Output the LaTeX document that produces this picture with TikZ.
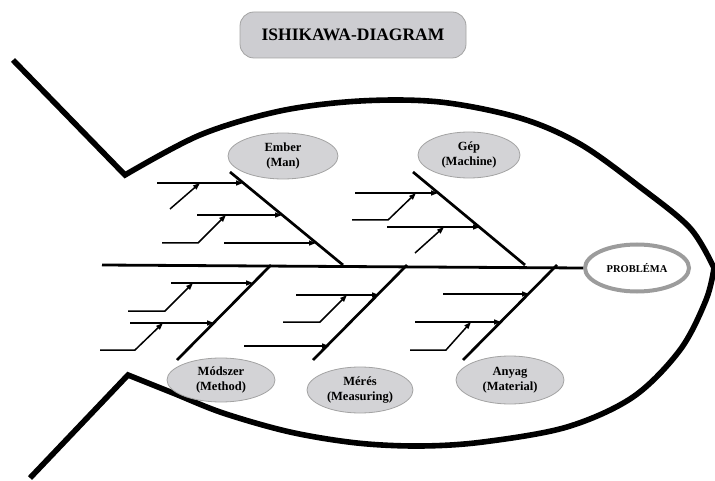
\documentclass[tikz,border=0pt]{standalone}
\usepackage{fontspec}
\setmainfont{Liberation Serif}
\usetikzlibrary{arrows.meta,shapes.geometric}
\definecolor{capfill}{HTML}{D3D3D6}
\definecolor{capdraw}{HTML}{A3A3A3}
\definecolor{titlefill}{HTML}{CDCDD1}
\definecolor{probdraw}{HTML}{9C9C9C}
\tikzset{
  body/.style={line width=5.6pt, line join=miter},
  spine/.style={line width=2.8pt},
  bone/.style={line width=2.7pt},
  twig/.style={line width=1.5pt, -{Triangle[length=7pt,width=5pt]}},
  cause/.style={ellipse, fill=capfill, draw=capdraw, line width=0.8pt, inner sep=0pt, align=center,
     font=\bfseries\fontsize{12.5}{15}\selectfont},
}
\begin{document}
\begin{tikzpicture}[x=1pt,y=-1pt]
\useasboundingbox (0,0) rectangle (715,481);
% title
\node[draw=capdraw, fill=titlefill, rounded corners=14pt, line width=0.8pt,
      minimum width=226pt, minimum height=46pt, font=\bfseries\fontsize{17.5}{20}\selectfont]
      (title) at (353,35) {ISHIKAWA-DIAGRAM};
% fish body
\draw[body] (13,60) -- plot[smooth, tension=0.55] coordinates {(125,175) (200,135) (280,111) (360,101) (440,102) (520,118) (580,144) (640,187) (690,228) (714,268)}
  -- plot[smooth, tension=0.55] coordinates {(714,268) (706,300) (680,350) (633,397) (567,427) (483,442) (420,446) (357,443) (290,432) (223,413) (173,393) (128,375)}
  -- (30,478);
% problem
\node[ellipse, draw=probdraw, line width=4pt, minimum width=104pt, minimum height=47pt, inner sep=0pt,
      font=\bfseries\fontsize{10.5}{12}\selectfont] (prob) at (637,268) {PROBLÉMA};
% spine
\coordinate (tailend) at (102,265);
\draw[spine] (tailend) -- (prob.west);
% bones
\coordinate (eA) at (230,172); \coordinate (eB) at (343,265);
\coordinate (gA) at (413,172); \coordinate (gB) at (525,265);
\coordinate (mA) at (271,265); \coordinate (mB) at (177,360);
\coordinate (rA) at (407,265); \coordinate (rB) at (313,360);
\coordinate (aA) at (557,265); \coordinate (aB) at (463,360);
\draw[bone] (eA) -- (eB);
\draw[bone] (gA) -- (gB);
\draw[bone] (mA) -- (mB);
\draw[bone] (rA) -- (rB);
\draw[bone] (aA) -- (aB);
% Ember twigs
\draw[twig] (157,183) -- (243,183);
\draw[twig] (170,209) -- (200,183);
\draw[twig] (197,215) -- (282,215);
\draw[twig] (162,243) -- (198,243) -- (226,215);
\draw[twig] (224,243) -- (316,243);
% Gep twigs
\draw[twig] (355,193) -- (438,193);
\draw[twig] (352,220) -- (388,220) -- (416,193);
\draw[twig] (387,227) -- (480,227);
\draw[twig] (415,253) -- (444,227);
% Modszer twigs
\draw[twig] (171,283) -- (253,283);
\draw[twig] (128,311) -- (165,311) -- (193,283);
\draw[twig] (130,323) -- (214,323);
\draw[twig] (100,350) -- (135,350) -- (163,323);
% Meres twigs
\draw[twig] (296,295) -- (379,295);
\draw[twig] (283,322) -- (320,322) -- (347,295);
\draw[twig] (244,346) -- (329,346);
% Anyag twigs
\draw[twig] (443,294) -- (529,294);
\draw[twig] (415,322) -- (501,322);
\draw[twig] (410,350) -- (446,350) -- (471,322);
% cause ellipses
\node[cause, minimum width=110pt, minimum height=46pt] (man) at (283,156) {Ember\\(Man)};
\node[cause, minimum width=102pt, minimum height=46pt] (machine) at (469,155) {Gép\\(Machine)};
\node[cause, minimum width=108pt, minimum height=44pt] (method) at (221,380) {Módszer\\(Method)};
\node[cause, minimum width=106pt, minimum height=46pt] (measure) at (360,390) {Mérés\\(Measuring)};
\node[cause, minimum width=108pt, minimum height=48pt] (material) at (510,380) {Anyag\\(Material)};
\end{tikzpicture}
\end{document}
